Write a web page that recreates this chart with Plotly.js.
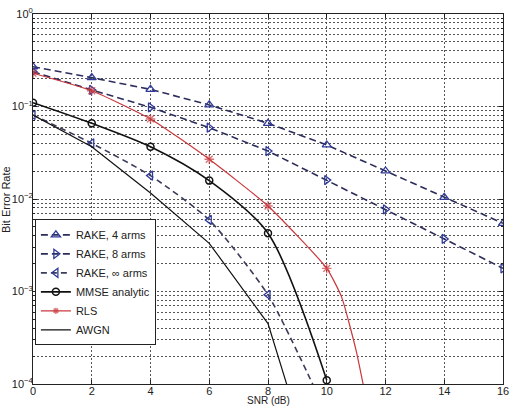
<!DOCTYPE html>
<html>
<head>
<meta charset="utf-8">
<script src="https://cdn.plot.ly/plotly-3.0.1.min.js"></script>
<style>html,body{margin:0;padding:0;background:#fff;}#chart{width:513px;height:408px;}</style>
</head>
<body>
<div id="chart"></div>
<script>
// SNR grid (dB)
var snrEven = [0, 2, 4, 6, 8, 10, 12, 14, 16];
var snrRakeInf = [0, 2, 4, 6, 8, 10];
var snrMMSE = [0, 2, 4, 6, 8, 10];
var snrRLS = [0, 2, 4, 6, 8, 10, 10.5, 11, 11.5];
var snrAWGN = [0, 2, 4, 6, 8, 9];

// Bit error rates
var berRake4 = [0.269, 0.205, 0.153, 0.104, 0.0658, 0.0384, 0.0201, 0.0104, 0.00546];
var berRake8 = [0.238, 0.151, 0.098, 0.059, 0.033, 0.016, 0.00774, 0.0037, 0.00178];
var berRakeInf = [0.081, 0.040, 0.0179, 0.00593, 0.00092, 0.000047];
var berMMSE = [0.110, 0.0658, 0.0367, 0.0158, 0.00426, 0.00011];
var berRLS = [0.229, 0.148, 0.0733, 0.0269, 0.0084, 0.00178, 0.00088, 0.00023, 0.000038];
var berAWGN = [0.081, 0.0367, 0.0116, 0.00332, 0.00045, 0.000042];

var names = ['RAKE, 4 arms', 'RAKE, 8 arms', 'RAKE, \u221e arms', 'MMSE analytic', 'RLS', 'AWGN'];
var xTickVals = [0, 2, 4, 6, 8, 10, 12, 14, 16];
var yTickVals = [1e-4, 1e-3, 1e-2, 1e-1, 1];
var yTickText = ['10<sup>\u22124</sup>', '10<sup>\u22123</sup>', '10<sup>\u22122</sup>', '10<sup>\u22121</sup>', '10<sup>0</sup>'];
var xTitle = 'SNR (dB)';
var yTitle = 'Bit Error Rate';

var navyLine = '#2b2d5a';
var navyMarker = '#2f3a9a';
var rlsSizes = snrRLS.map(function (s) { return (s % 2 === 0) ? 8 : 0; });

var traces = [
  {x: snrEven, y: berRake4, name: names[0], mode: 'lines+markers',
   line: {color: navyLine, width: 1.6, dash: '7px,4px'},
   marker: {symbol: 'triangle-up-open', size: 8, color: navyMarker, line: {width: 1.3}}},
  {x: snrEven, y: berRake8, name: names[1], mode: 'lines+markers',
   line: {color: navyLine, width: 1.6, dash: '7px,4px'},
   marker: {symbol: 'triangle-right-open', size: 8, color: navyMarker, line: {width: 1.3}}},
  {x: snrRakeInf, y: berRakeInf, name: names[2], mode: 'lines+markers',
   line: {color: '#3a3d5a', width: 1.6, dash: '6px,4px', shape: 'spline', smoothing: 0.6},
   marker: {symbol: 'triangle-left-open', size: 8, color: navyMarker, line: {width: 1.3}}},
  {x: snrMMSE, y: berMMSE, name: names[3], mode: 'lines+markers',
   line: {color: '#111', width: 1.6, shape: 'spline', smoothing: 0.8},
   marker: {symbol: 'circle-open', size: 7, color: '#111', line: {width: 1.5}}},
  {x: snrRLS, y: berRLS, name: names[4], mode: 'lines+markers',
   line: {color: '#c8383c', width: 1.2, shape: 'spline', smoothing: 0.5},
   marker: {symbol: 'asterisk-open', size: rlsSizes, color: '#c8383c', line: {width: 1.4}}},
  {x: snrAWGN, y: berAWGN, name: names[5], mode: 'lines',
   line: {color: '#111', width: 1.2}}
];

var gridColor = '#555';
var gridDash = '2px,2px';

var layout = {
  width: 513, height: 408,
  margin: {l: 33, r: 10, t: 14, b: 24},
  paper_bgcolor: '#fff', plot_bgcolor: '#fff',
  font: {family: 'Liberation Sans, Arial, sans-serif', size: 12, color: '#222'},
  showlegend: true,
  legend: {x: 0.004, y: 0.445, xanchor: 'left', yanchor: 'top',
           bgcolor: '#fff', bordercolor: '#222', borderwidth: 1,
           font: {size: 11, color: '#222'}, tracegroupgap: 0, itemwidth: 30},
  xaxis: {
    range: [0, 16], tickvals: xTickVals, ticktext: xTickVals.map(String),
    showline: true, linecolor: '#222', linewidth: 1, mirror: 'ticks',
    ticks: 'inside', ticklen: 4, tickcolor: '#222',
    ticklabelstandoff: -3,
    showgrid: true, gridcolor: gridColor, griddash: gridDash, gridwidth: 1,
    zeroline: false,
    tickfont: {size: 11, color: '#222'},
    automargin: false
  },
  yaxis: {
    type: 'log', range: [-4, 0], tickmode: 'array', tickvals: yTickVals, ticktext: yTickText,
    showline: true, linecolor: '#222', linewidth: 1, mirror: 'ticks',
    ticks: 'inside', ticklen: 4, tickcolor: '#222',
    ticklabelstandoff: -3,
    showgrid: true, gridcolor: gridColor, griddash: gridDash, gridwidth: 1,
    minor: {tickmode: 'linear', dtick: 'D1', showgrid: true, gridcolor: gridColor, griddash: gridDash,
            ticks: 'inside', ticklen: 2, tickcolor: '#222'},
    zeroline: false,
    tickfont: {size: 11, color: '#222'},
    automargin: false
  },
  annotations: [
    {text: xTitle, xref: 'paper', yref: 'paper', x: 0.5, y: -0.0649, xanchor: 'center', yanchor: 'bottom',
     showarrow: false, font: {size: 10, color: '#222'}},
    {text: yTitle, xref: 'paper', yref: 'paper', x: -0.0575, y: 0.5, xanchor: 'center', yanchor: 'middle',
     textangle: -90, showarrow: false, font: {size: 11, color: '#222'}}
  ]
};

Plotly.newPlot('chart', traces, layout, {displayModeBar: false, staticPlot: true});
</script>
</body>
</html>
